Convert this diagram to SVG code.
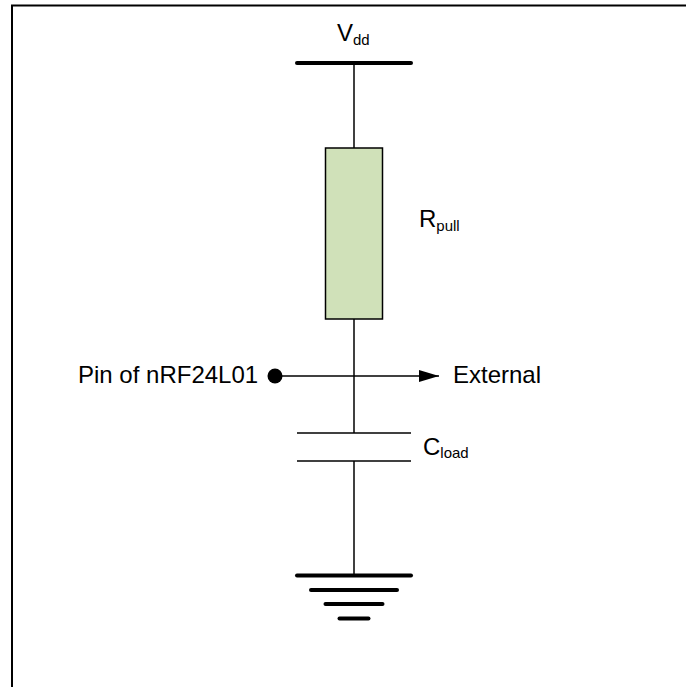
<svg xmlns="http://www.w3.org/2000/svg" width="686" height="687" viewBox="0 0 686 687">
<style>
.t{font-family:"Liberation Sans",Arial,sans-serif;fill:#000}
.m{font-size:24px}
.s{font-size:15px}
.w{stroke:#000;stroke-width:1.500;fill:none}
.b{stroke:#000;stroke-width:4;stroke-linecap:round;fill:none}
</style>
<defs>
<marker id="arr" markerUnits="userSpaceOnUse" markerWidth="20" markerHeight="12" refX="20" refY="6" orient="auto"><path d="M0 0L20 6L0 12Z" fill="#000"/></marker>
</defs>
<rect width="686" height="687" fill="#fff"/>
<path d="M12 687V5.500H686" stroke="#000" stroke-width="2" fill="none"/>
<g id="connectors">
<line class="w" x1="354" y1="63" x2="354" y2="148"/>
<line class="w" x1="354" y1="319" x2="354" y2="433"/>
<line class="w" x1="354" y1="461" x2="354" y2="576"/>
<line class="w" x1="275" y1="376" x2="439" y2="376" marker-end="url(#arr)"/>
</g>
<g id="vdd">
<line class="b" x1="297" y1="63" x2="411" y2="63"/>
<text class="t m" x="337" y="41">V<tspan class="s" dy="4">dd</tspan></text>
</g>
<g id="rpull">
<rect x="325.500" y="148" width="57" height="171" fill="#d0e1b9" stroke="#000" stroke-width="1.500"/>
<text class="t m" x="419" y="227">R<tspan class="s" dy="3.500">pull</tspan></text>
</g>
<g id="pin">
<circle cx="275" cy="376" r="7.500" fill="#000"/>
<text class="t m" x="78" y="383">Pin of nRF24L01</text>
</g>
<g id="external">
<text class="t m" x="453" y="383">External</text>
</g>
<g id="cload">
<line class="w" x1="297" y1="433" x2="411" y2="433"/>
<line class="w" x1="297" y1="461" x2="411" y2="461"/>
<text class="t m" x="423" y="455">C<tspan class="s" dy="3">load</tspan></text>
</g>
<g id="ground">
<line class="b" x1="297" y1="575.500" x2="411" y2="575.500"/>
<line class="b" x1="311" y1="590" x2="397" y2="590"/>
<line class="b" x1="325.500" y1="604" x2="382.500" y2="604"/>
<line class="b" x1="339.500" y1="618.500" x2="368.500" y2="618.500"/>
</g>
</svg>
